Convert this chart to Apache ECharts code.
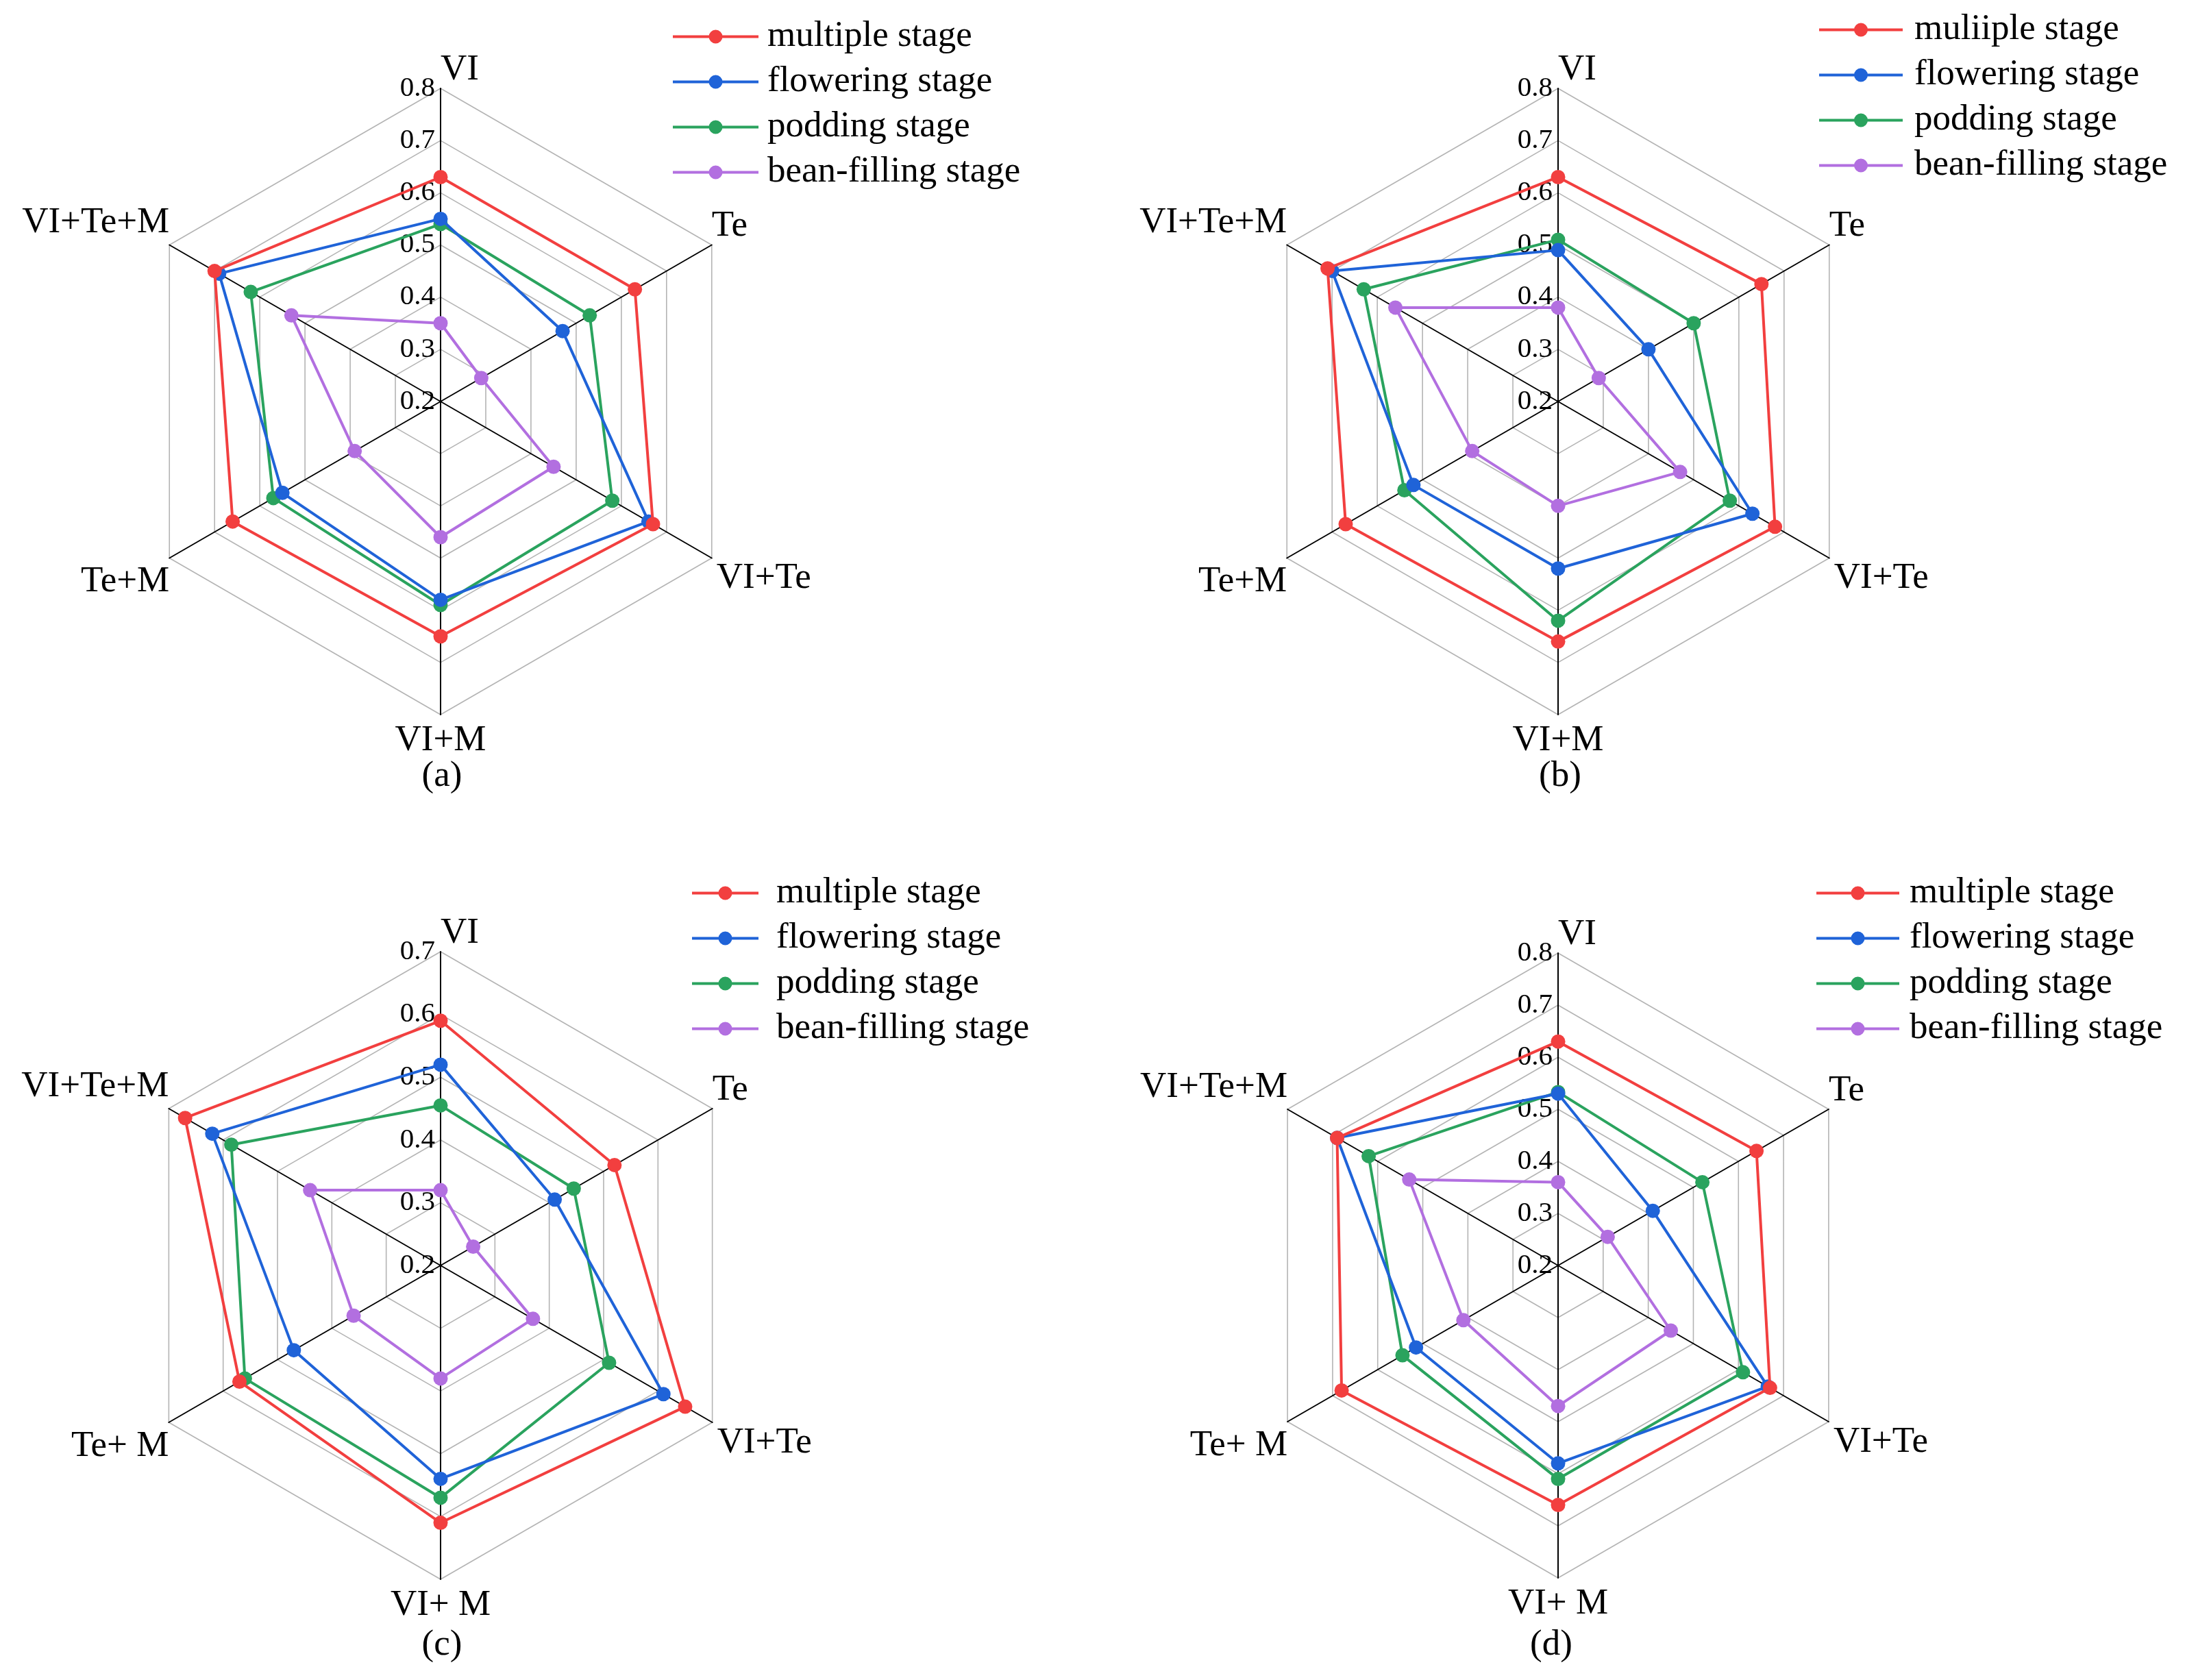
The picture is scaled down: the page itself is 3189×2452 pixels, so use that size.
<!DOCTYPE html>
<html>
<head>
<meta charset="utf-8">
<script src="https://cdn.jsdelivr.net/npm/echarts@6/dist/echarts.min.js"></script>
<style>
html,body{margin:0;padding:0;background:#fff;}
#c{width:3189px;height:2452px;}
</style>
</head>
<body>
<div id="c"></div>
<script>
// ---- data ----
const categoriesAB = ['VI', 'Te', 'VI+Te', 'VI+M', 'Te+M', 'VI+Te+M'];
const categoriesCD = ['VI', 'Te', 'VI+Te', 'VI+ M', 'Te+ M', 'VI+Te+M'];
const stageNames = ['multiple stage', 'flowering stage', 'podding stage', 'bean-filling stage'];
const stageNamesB = ['muliiple stage', 'flowering stage', 'podding stage', 'bean-filling stage'];
const panelLabels = ['(a)', '(b)', '(c)', '(d)'];
const axisRangeA = [0.2, 0.8];
const axisRangeB = [0.2, 0.8];
const axisRangeC = [0.2, 0.7];
const axisRangeD = [0.2, 0.8];

// values in order VI, Te, VI+Te, VI+M, Te+M, VI+Te+M
const aMultiple  = [0.63, 0.63, 0.67, 0.65, 0.66, 0.70];
const aFlowering = [0.55, 0.47, 0.66, 0.58, 0.55, 0.69];
const aPodding   = [0.54, 0.53, 0.58, 0.59, 0.57, 0.62];
const aBean      = [0.35, 0.29, 0.45, 0.46, 0.39, 0.53];

const bMultiple  = [0.63, 0.65, 0.68, 0.66, 0.67, 0.71];
const bFlowering = [0.49, 0.40, 0.63, 0.52, 0.52, 0.70];
const bPodding   = [0.51, 0.50, 0.58, 0.62, 0.54, 0.63];
const bBean      = [0.38, 0.29, 0.47, 0.40, 0.39, 0.56];

const cMultiple  = [0.59, 0.52, 0.65, 0.61, 0.57, 0.67];
const cFlowering = [0.52, 0.41, 0.61, 0.54, 0.47, 0.62];
const cPodding   = [0.455, 0.445, 0.51, 0.57, 0.56, 0.585];
const cBean      = [0.32, 0.26, 0.37, 0.38, 0.36, 0.44];

const dMultiple  = [0.63, 0.64, 0.67, 0.66, 0.68, 0.69];
const dFlowering = [0.53, 0.41, 0.665, 0.58, 0.515, 0.69];
const dPodding   = [0.533, 0.52, 0.61, 0.61, 0.545, 0.62];
const dBean      = [0.36, 0.31, 0.45, 0.47, 0.41, 0.53];

// ---- styling / layout ----
const colors = ['#f23f3f', '#1f63d8', '#2aa35e', '#b26fe0'];
const FONT = '"Liberation Serif", "Times New Roman", serif';
const order = [0, 5, 4, 3, 2, 1]; // ECharts radar goes counter-clockwise from top

// position keys of the axis names (natural clockwise order)
const posKeys = ['top', 'ur', 'lr', 'bot', 'll', 'ul'];
const nameKey = {};
categoriesAB.forEach((n, i) => { nameKey[n] = posKeys[i]; });
categoriesCD.forEach((n, i) => { nameKey[n] = posKeys[i]; });
const baseName = {color: '#000', fontFamily: FONT, fontSize: 53};
const rich = {
  top: Object.assign({padding: [0, 0, 0, 56]}, baseName),
  ur:  Object.assign({padding: [0, 0, 54, 0]}, baseName),
  lr:  Object.assign({padding: [60, 0, 0, 7]}, baseName),
  bot: Object.assign({padding: [12, 0, 0, 0]}, baseName),
  ll:  Object.assign({padding: [70, 0, 0, 0]}, baseName),
  ul:  Object.assign({padding: [0, 0, 64, 0]}, baseName)
};

const panels = [
  {cats: categoriesAB, range: axisRangeA, names: stageNames,  series: [aMultiple, aFlowering, aPodding, aBean],
   center: [643, 586], radius: 457, legend: {left: 982, top: 27, w: 125, pad: 8}, title: [645, 1107]},
  {cats: categoriesAB, range: axisRangeB, names: stageNamesB, series: [bMultiple, bFlowering, bPodding, bBean],
   center: [2274, 586], radius: 457, legend: {left: 2655, top: 17, w: 122, pad: 12}, title: [2277, 1107]},
  {cats: categoriesCD, range: axisRangeC, names: stageNames,  series: [cMultiple, cFlowering, cPodding, cBean],
   center: [643, 1847], radius: 458, legend: {left: 1010, top: 1277, w: 97, pad: 21}, title: [645, 2375]},
  {cats: categoriesCD, range: axisRangeD, names: stageNames,  series: [dMultiple, dFlowering, dPodding, dBean],
   center: [2274, 1847], radius: 456, legend: {left: 2651, top: 1277, w: 121, pad: 10}, title: [2264, 2375]}
];

function legendIcon(w) {
  const c = w / 2;
  return 'path://M0,8.1 L' + w + ',8.1 L' + w + ',11.9 L0,11.9 Z M' + (c - 10) + ',10 A10,10 0 1,1 ' + (c + 10) +
    ',10 A10,10 0 1,1 ' + (c - 10) + ',10 Z';
}

const radar = [], series = [], legend = [], title = [];
panels.forEach((p, pi) => {
  const split = Math.round((p.range[1] - p.range[0]) / 0.1);
  radar.push({
    center: p.center,
    radius: p.radius,
    startAngle: 90,
    splitNumber: split,
    shape: 'polygon',
    nameGap: 0,
    indicator: order.map(i => ({
      name: p.cats[i], min: p.range[0], max: p.range[1],
      axisLabel: {show: i === 0}
    })),
    axisName: Object.assign({formatter: n => '{' + (nameKey[n] || 'top') + '|' + n + '}', rich: rich}, baseName),
    axisLine: {lineStyle: {color: '#000', width: 2}},
    splitLine: {lineStyle: {color: '#b4b4b4', width: 1.6}},
    splitArea: {show: false},
    axisTick: {show: false},
    axisLabel: {show: false, color: '#000', fontFamily: FONT, fontSize: 41, margin: 8,
      padding: [0, 0, 16, 0],
      formatter: v => (+v).toFixed(1)}
  });
  p.series.forEach((vals, si) => {
    series.push({
      type: 'radar', radarIndex: pi, name: p.names[si],
      symbol: 'circle', symbolSize: 21,
      itemStyle: {color: colors[si]},
      lineStyle: {color: colors[si], width: 4},
      z: 10 - si,
      data: [{value: order.map(i => vals[i]), name: p.names[si]}]
    });
  });
  const L = p.legend;
  legend.push({
    orient: 'vertical', left: L.left, top: L.top, padding: 0,
    itemWidth: L.w, itemHeight: 20, itemGap: 13,
    icon: legendIcon(L.w),
    selectedMode: false,
    itemStyle: {borderWidth: 0},
    textStyle: {color: '#000', fontFamily: FONT, fontSize: 53, lineHeight: 53, padding: [0, 0, 0, L.pad]},
    data: p.names.map((n, si) => ({name: n, itemStyle: {color: colors[si]}}))
  });
  title.push({
    text: panelLabels[pi], left: p.title[0], top: p.title[1], textAlign: 'center', padding: 0,
    textStyle: {color: '#000', fontFamily: FONT, fontSize: 53, fontWeight: 'normal'}
  });
});

const chart = echarts.init(document.getElementById('c'), null, {renderer: 'canvas'});
chart.setOption({
  backgroundColor: '#fff',
  animation: false,
  title, legend, radar, series
});
</script>
</body>
</html>
